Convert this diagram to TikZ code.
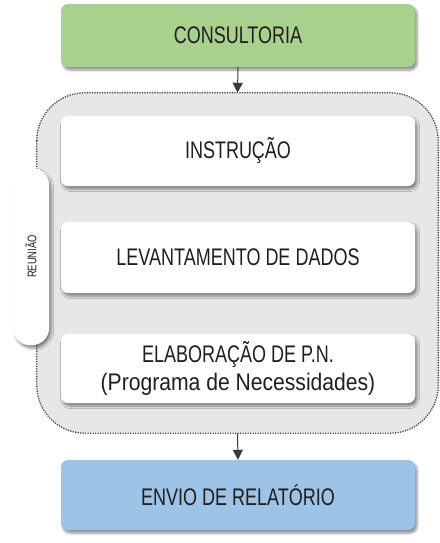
\documentclass[tikz,border=0pt]{standalone}
\usepackage{fontspec}
\setmainfont{Liberation Sans}[FakeStretch=0.75]
\newfontfamily\widefont{Liberation Sans}[FakeStretch=0.88]
\usetikzlibrary{arrows.meta,shadows.blur}
\definecolor{boxgreen}{HTML}{A9D18E}
\definecolor{boxblue}{HTML}{9DC3E6}
\definecolor{panelgray}{HTML}{E7E7E7}
\definecolor{linegray}{HTML}{3A3A3A}
\definecolor{textdark}{HTML}{1F1F1F}
\tikzset{
  stagebox/.style={rectangle, rounded corners=7pt, minimum width=354pt, text=textdark,
    font=\fontsize{24}{28}\selectfont, align=center, inner sep=0pt,
    blur shadow={shadow xshift=2pt, shadow yshift=-3pt, shadow blur steps=6, shadow blur radius=2.5pt, shadow opacity=45}},
  panelline/.style={fill=panelgray, draw=linegray,
    line width=1.3pt, dash pattern=on 1.2pt off 1.3pt},
  tabshape/.style={fill=white,
    blur shadow={shadow xshift=2pt, shadow yshift=-3pt, shadow blur steps=6, shadow blur radius=2.5pt, shadow opacity=45}},
  anchorbox/.style={rectangle, inner sep=0pt},
  flow/.style={draw=linegray, line width=1pt, -{Triangle[width=10pt,length=10pt]}}
}
\begin{document}
\begin{tikzpicture}[x=1pt,y=-1pt]
\useasboundingbox (0,0) rectangle (439,543);
\node[stagebox, fill=boxgreen, minimum height=63pt] (consult) at (238,35.5) {CONSULTORIA};
\node[anchorbox, minimum width=401pt, minimum height=340pt] (panel) at (237.5,263) {};
\path[panelline, rounded corners=48pt] (panel.north west) rectangle (panel.south east);
\node[anchorbox, minimum width=36pt, minimum height=177pt] (tab) at (31,256.5) {};
\path[tabshape, rounded corners=17.5pt] (tab.north west) rectangle (tab.south east);
\node[rotate=90, font=\fontsize{12.5}{14}\selectfont, text=textdark] (reuniao) at (tab.center) {REUNIÃO};
\node[stagebox, fill=white, minimum height=70pt] (inst) at (238,151) {INSTRUÇÃO};
\node[stagebox, fill=white, minimum height=71pt] (lev) at (238,257.5) {LEVANTAMENTO DE DADOS};
\node[stagebox, fill=white, minimum height=69pt] (elab) at (238,368.5) {ELABORAÇÃO DE P.N.\\{\widefont (Programa de Necessidades)}};
\node[stagebox, fill=boxblue, minimum height=70pt] (envio) at (238,495) {ENVIO DE RELATÓRIO};
\draw[flow] (consult.south) -- (panel.north);
\draw[flow] (panel.south) -- (envio.north);
\end{tikzpicture}
\end{document}
